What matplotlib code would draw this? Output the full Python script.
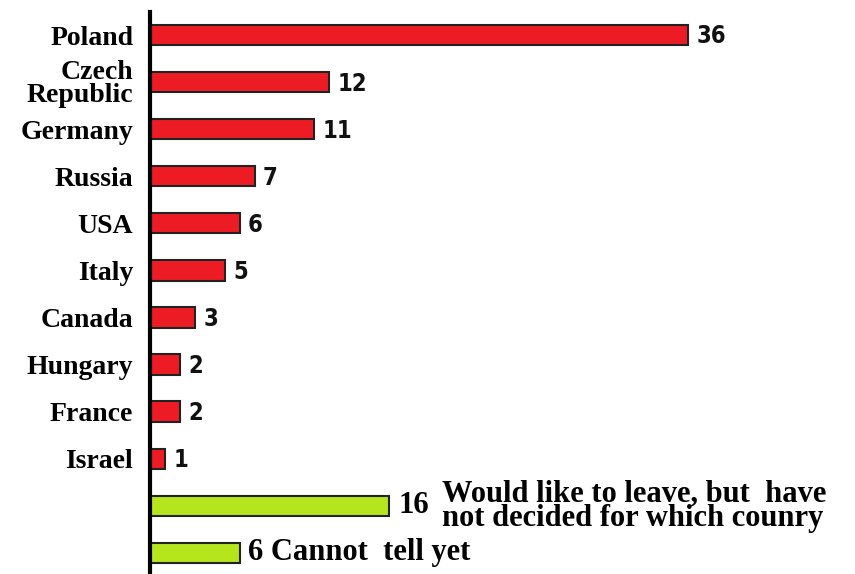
import matplotlib.pyplot as plt

countries = ["Poland", "Czech\nRepublic", "Germany", "Russia", "USA", "Italy",
             "Canada", "Hungary", "France", "Israel"]
counts = [36, 12, 11, 7, 6, 5, 3, 2, 2, 1]
undecided = 16
cannot_tell = 6
undecided_text = "Would like to leave, but  have\nnot decided for which counry"
cannot_text = "Cannot  tell yet"

red = "#ed1c24"
green = "#b5e61d"
serif = ["Liberation Serif", "DejaVu Serif"]
sans = ["DejaVu Sans"]

fig = plt.figure(figsize=(8.55, 5.74), dpi=100)
ax = fig.add_axes([150 / 855, 0, 705 / 855, 1 - 12 / 574])

n = len(countries)
ys = list(range(n))
ax.barh(ys, counts, height=0.43, color=red, edgecolor="#222222", linewidth=1.5)
ax.barh([n, n + 1], [undecided, cannot_tell], height=0.43, color=green,
        edgecolor="#222222", linewidth=1.5)

# numbers next to the red bars
for y, v in zip(ys, counts):
    ax.annotate(str(v), (v, y), xytext=(6, -1), textcoords="offset points",
                ha="left", va="center", fontsize=17, fontweight="bold",
                family=sans, fontstretch="condensed", color="#111111")

ax.annotate(str(undecided), (undecided, n), xytext=(7, 0), textcoords="offset points",
            ha="left", va="center", fontsize=22, fontweight="bold", family=serif)
ax.annotate(undecided_text, (undecided, n), xytext=(38, 0), textcoords="offset points",
            ha="left", va="center", fontsize=22, fontweight="bold", family=serif,
            linespacing=0.8)
ax.annotate(f"{cannot_tell} {cannot_text}", (cannot_tell, n + 1), xytext=(6, 0),
            textcoords="offset points", ha="left", va="center", fontsize=22,
            fontweight="bold", family=serif)

ax.set_yticks(ys)
ax.set_yticklabels(countries, fontsize=20, fontweight="bold", family=serif,
                   linespacing=0.88)
ax.tick_params(axis="y", length=0, pad=12)
ax.set_xticks([])
ax.set_xlim(0, 705 / 14.94)
ax.set_ylim(11.45, -0.49)
for s in ["top", "right", "bottom"]:
    ax.spines[s].set_visible(False)
ax.spines["left"].set_linewidth(3)

fig.savefig("out.png", dpi=100)
